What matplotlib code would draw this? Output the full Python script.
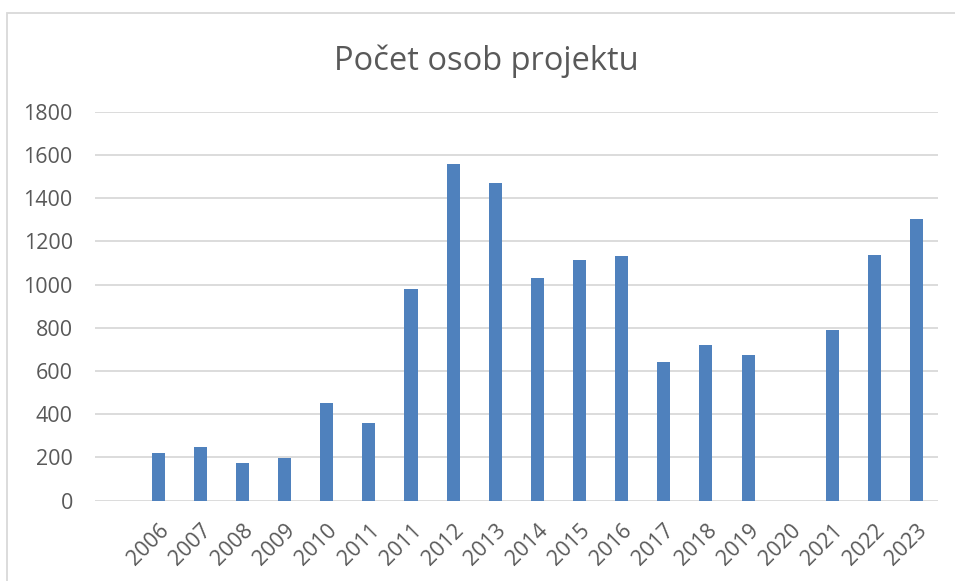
import matplotlib.pyplot as plt
from matplotlib.patches import Rectangle

# categories (first slot is empty in the source chart)
years = ["", "2006", "2007", "2008", "2009", "2010", "2011", "2011", "2012", "2013",
         "2014", "2015", "2016", "2017", "2018", "2019", "2020", "2021", "2022", "2023"]
persons = [0, 219, 250, 174, 196, 451, 358, 978, 1559, 1470,
           1032, 1115, 1132, 643, 720, 676, 0, 788, 1137, 1302]
yticks = [0, 200, 400, 600, 800, 1000, 1200, 1400, 1600, 1800]

text_col = "#595959"
bar_col = "#4F81BD"
grid_col = "#D9D9D9"

plt.rcParams["font.family"] = ["Open Sans", "DejaVu Sans"]

W, H = 955, 581
fig = plt.figure(figsize=(W / 100, H / 100), dpi=100)
ax = fig.add_axes([95 / W, 1 - 500.7 / H, (937.7 - 95) / W, (500.7 - 111.7) / H])

x = list(range(len(years)))
ax.bar(x, persons, width=0.31, color=bar_col, zorder=3)

ax.set_xlim(-0.5, len(years) - 0.5)
ax.set_ylim(0, 1800)
ax.set_yticks(yticks)
ax.set_yticklabels([str(v) for v in yticks], fontsize=15.5, color=text_col)
ax.set_xticks(x)
ax.set_xticklabels(years, fontsize=15.5, color=text_col, rotation=45,
                   ha="right", va="top", rotation_mode="anchor")
ax.tick_params(axis="both", length=0)
ax.tick_params(axis="y", pad=16)
ax.tick_params(axis="x", pad=14)

ax.grid(axis="y", color=grid_col, linewidth=1.3, zorder=0)
for s in ax.spines.values():
    s.set_visible(False)

fig.text(486.7 / W, 1 - 70 / H, "Počet osob projektu", fontsize=23.5,
         color=text_col, ha="center", va="baseline")

# outer chart border (only top and left edges visible in the crop)
fig.patches.append(Rectangle((6.5 / W, -0.1), 1.2, 1.1 - 13 / H,
                             transform=fig.transFigure, fill=False,
                             edgecolor=grid_col, linewidth=1.3))

fig.savefig("out.png", dpi=100)
